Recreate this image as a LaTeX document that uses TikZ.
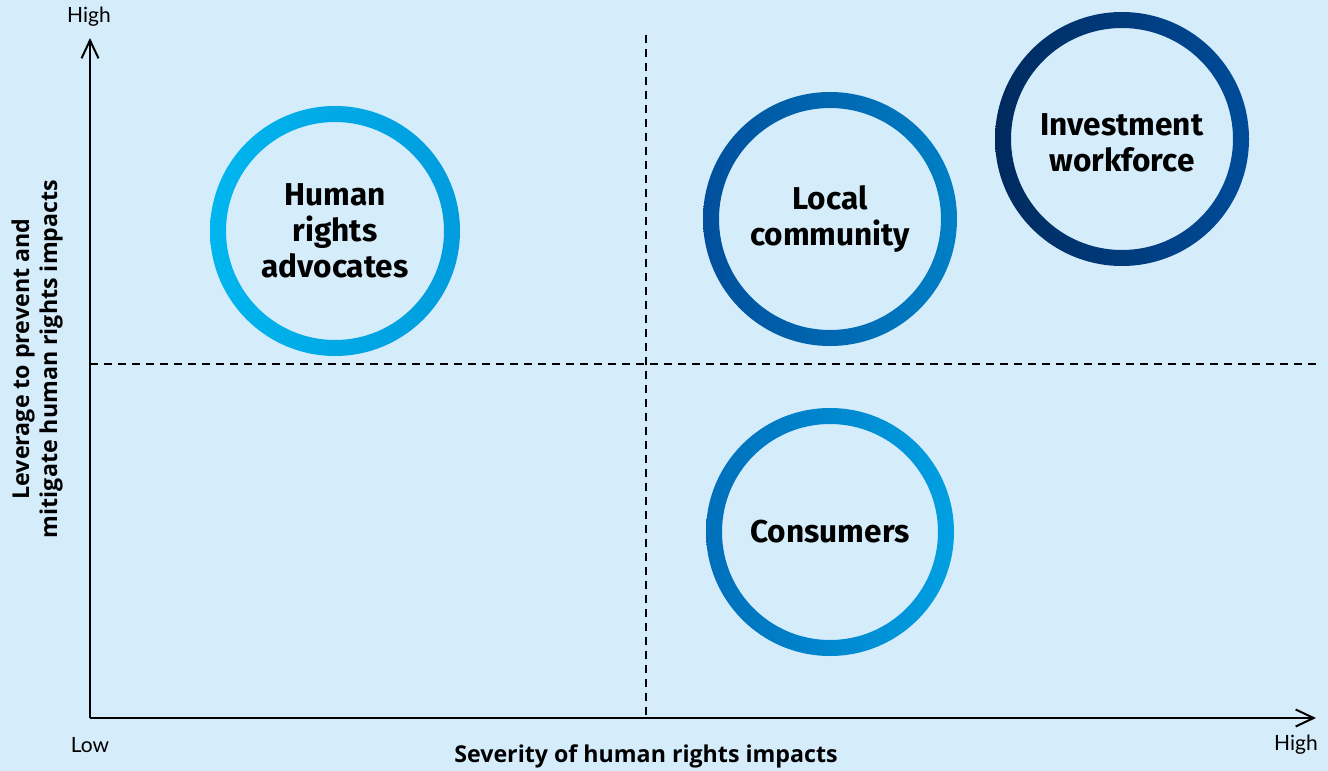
\documentclass[tikz,border=0pt]{standalone}
\usepackage{fontspec}
\setmainfont{Fira Sans}
\newfontfamily\endfont{Lato}
\newfontfamily\axisfont{Open Sans}
\usetikzlibrary{arrows.meta}

\definecolor{paper}{HTML}{D5ECFA}
\definecolor{advocatesL}{HTML}{00B6EE}
\definecolor{advocatesR}{HTML}{009CDE}
\definecolor{communityL}{HTML}{004F9C}
\definecolor{communityR}{HTML}{0080C6}
\definecolor{workforceL}{HTML}{002A5E}
\definecolor{workforceR}{HTML}{004C9A}
\definecolor{consumersL}{HTML}{006FBB}
\definecolor{consumersR}{HTML}{00A0E2}

\begin{document}
\begin{tikzpicture}[x=0.5pt,y=-0.5pt,
  axis/.style={line width=1pt,-{Straight Barb[length=9pt,width=8.5pt,line width=1pt]}},
  guide/.style={line width=0.6pt,dash pattern=on 4pt off 3pt},
  tick/.style={font=\endfont\fontsize{10.5}{12}\selectfont,inner sep=0pt},
  title/.style={font=\axisfont\bfseries\fontsize{11.6}{14}\selectfont,inner sep=0pt,align=center},
  group/.style={font=\bfseries\fontsize{15.8}{18}\selectfont,inner sep=0pt,align=center},
  ring/.style={even odd rule}]
  \fill[paper] (0,0) rectangle (1328,771);
  \useasboundingbox (0,0) rectangle (1328,771);

  \coordinate (origin) at (90,718);
  \coordinate (ytop)   at (90,38);
  \coordinate (xend)   at (1316,718);
  \coordinate (vtop)   at (646,35);
  \coordinate (vbot)   at (646,718);
  \coordinate (hleft)  at (90,364);
  \coordinate (hright) at (1316,364);

  \draw[guide] (vtop) -- (vbot);
  \draw[guide] (hleft) -- (hright);
  \draw[axis] (origin) -- (ytop);
  \draw[axis] (origin) -- (xend);

  \node[tick](yhigh)  at (89,17)    {High};
  \node[tick](xlow)   at (90,745)   {Low};
  \node[tick](xhigh)  at (1296,745) {High};
  \node[title](xname) at (646,756)  {Severity of human rights impacts};
  \node[title,rotate=90](yname) at (37,359) {Leverage to prevent and\\mitigate human rights impacts};

  \node[group](advocates) at (335,231) {Human\\rights\\advocates};
  \node[group](community) at (830,219) {Local\\community};
  \node[group](workforce) at (1122,143) {Investment\\workforce};
  \node[group](consumers) at (830,532) {Consumers};
  \coordinate (workforcemid) at (1122,139);

  \shade[ring,left color=advocatesL,right color=advocatesR]
    (advocates.center) circle[radius=125] (advocates.center) circle[radius=109];
  \shade[ring,left color=communityL,right color=communityR]
    (community.center) circle[radius=127] (community.center) circle[radius=111];
  \shade[ring,left color=workforceL,right color=workforceR]
    (workforcemid) circle[radius=127] (workforcemid) circle[radius=111];
  \shade[ring,left color=consumersL,right color=consumersR]
    (consumers.center) circle[radius=124] (consumers.center) circle[radius=108];
\end{tikzpicture}
\end{document}
